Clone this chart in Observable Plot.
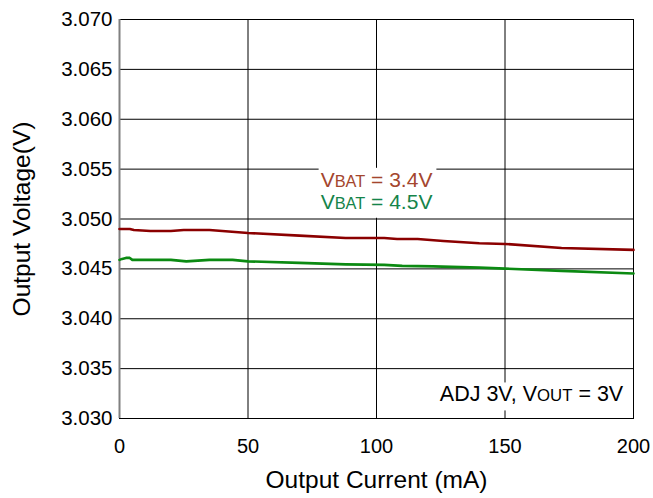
<!DOCTYPE html>
<html><head><meta charset="utf-8">
<script src="https://cdn.jsdelivr.net/npm/d3@7"></script>
<script src="https://cdn.jsdelivr.net/npm/@observablehq/plot@0.6"></script>
<style>
body{margin:0;background:#fff;}
#chart svg{display:block;font-family:"Liberation Sans",Arial,sans-serif;}
</style>
</head><body><div id="chart"></div>
<script>
// Series: VBAT = 3.4 V
const currentA = [0, 4, 5.6, 12, 20, 25, 35, 50, 70, 88, 103, 108, 116, 126, 140, 150, 172, 200];
const vbat34   = [3.0490, 3.0490, 3.0489, 3.0488, 3.0488, 3.0489, 3.0489, 3.0486, 3.04833, 3.0481, 3.0481, 3.0480, 3.0480, 3.0478, 3.04757, 3.0475, 3.0471, 3.0469];
// Series: VBAT = 4.5 V
const currentB = [0, 1, 2.5, 4, 5, 20, 26, 35, 44, 50, 70, 88, 103, 110, 122, 140, 150, 172, 200];
const vbat45   = [3.0459, 3.0460, 3.0461, 3.0461, 3.0459, 3.0459, 3.04575, 3.0459, 3.0459, 3.04575, 3.0456, 3.04545, 3.0454, 3.0453, 3.04525, 3.04513, 3.04503, 3.0448, 3.04453];

const xTicks = [0, 50, 100, 150, 200];
const yTicks = [3.030, 3.035, 3.040, 3.045, 3.050, 3.055, 3.060, 3.065, 3.070];
const seriesLabels = ["VBAT = 3.4V", "VBAT = 4.5V"];
const labelX = [100, 100];
const labelY = [3.0539, 3.0517];
const noteText = ["ADJ 3V, VOUT = 3V"];
const noteX = [196];
const noteY = [3.0324];

const xLabel = "Output Current (mA)";
const yLabel = "Output Voltage(V)";

const lineColor = ["#8b0000", "#0b8a12"];
const labelColor = ["#a4462e", "#15844a"];

const dataA = currentA.map((c, i) => ({c, v: vbat34[i]}));
const dataB = currentB.map((c, i) => ({c, v: vbat45[i]}));
const labels = seriesLabels.map((t, i) => ({t, x: labelX[i], y: labelY[i], col: labelColor[i]}));
const notes = noteText.map((t, i) => ({t, x: noteX[i], y: noteY[i]}));

const plot = Plot.plot({
  width: 653,
  height: 498,
  marginLeft: 119,
  marginRight: 20,
  marginTop: 19,
  marginBottom: 80,
  style: {fontFamily: '"Liberation Sans", Arial, sans-serif', background: "#fff", color: "#000"},
  x: {domain: [0, 200], ticks: xTicks, label: null},
  y: {domain: [3.030, 3.070], ticks: yTicks, label: null, tickFormat: d3.format(".3f")},
  marks: [
    Plot.gridX(xTicks, {stroke: "#000", strokeOpacity: 1, strokeWidth: 1}),
    Plot.gridY(yTicks, {stroke: "#000", strokeOpacity: 1, strokeWidth: 1}),
    Plot.frame({stroke: "#000", strokeWidth: 1}),
    Plot.ruleX([0], {stroke: "#808080", strokeWidth: 2}),
    Plot.axisX(xTicks, {tickSize: 0, tickPadding: 20, fontSize: 20, label: null}),
    Plot.axisY(yTicks, {tickSize: 0, tickPadding: 7, fontSize: 20.5, label: null, tickFormat: d3.format(".3f")}),
    Plot.line(dataA, {x: "c", y: "v", stroke: lineColor[0], strokeWidth: 2.6}),
    Plot.line(dataB, {x: "c", y: "v", stroke: lineColor[1], strokeWidth: 2.6}),
    Plot.text(labels, {x: "x", y: "y", text: "t", fill: "col", fontSize: 21, textAnchor: "middle"}),
    Plot.text(notes, {x: "x", y: "y", text: "t", fill: "#000", fontSize: 21.5, textAnchor: "end"}),
    Plot.text([xLabel], {frameAnchor: "bottom", dy: 69, text: d => d, fontSize: 24.5, fill: "#000"}),
    Plot.text([yLabel], {frameAnchor: "left", dx: -97, rotate: -90, textAnchor: "middle", text: d => d, fontSize: 24.5, fill: "#000"})
  ]
});

document.getElementById("chart").appendChild(plot);

// subscripts (BAT / OUT) and white backgrounds behind annotation text
const labelNodes = [];
const noteNodes = [];
d3.select(plot).selectAll("text").each(function () {
  const t = this.textContent;
  const m = t.match(/^(.*?V)(BAT|OUT)(.*)$/);
  if (!m) return;
  const sel = d3.select(this);
  sel.text(null);
  sel.append("tspan").text(m[1]);
  sel.append("tspan").attr("font-size", "0.78em").text(m[2]);
  sel.append("tspan").text(m[3]);
  if (m[2] === "BAT") labelNodes.push(this); else noteNodes.push(this);
});
function boxBehind(nodes, pad) {
  if (!nodes.length) return;
  let x0 = Infinity, y0 = Infinity, x1 = -Infinity, y1 = -Infinity;
  nodes.forEach(n => {
    const b = n.getBBox();
    const p0 = plot.createSVGPoint(); p0.x = b.x; p0.y = b.y;
    const p1 = plot.createSVGPoint(); p1.x = b.x + b.width; p1.y = b.y + b.height;
    const m = plot.getScreenCTM().inverse().multiply(n.getScreenCTM());
    const q0 = p0.matrixTransform(m), q1 = p1.matrixTransform(m);
    x0 = Math.min(x0, q0.x, q1.x); x1 = Math.max(x1, q0.x, q1.x);
    y0 = Math.min(y0, q0.y, q1.y); y1 = Math.max(y1, q0.y, q1.y);
  });
  const g = nodes[0].closest("g[aria-label='text']") || nodes[0].parentNode;
  d3.select(plot).insert("rect", () => g)
    .attr("x", x0 - pad[0]).attr("y", y0 - pad[1])
    .attr("width", x1 - x0 + pad[0] + pad[2]).attr("height", y1 - y0 + pad[1] + pad[3])
    .attr("fill", "#fff");
}
boxBehind(labelNodes, [2, 0, 4, 5]);
boxBehind(noteNodes, [4, 0, 4, 4]);
</script>
</body></html>
